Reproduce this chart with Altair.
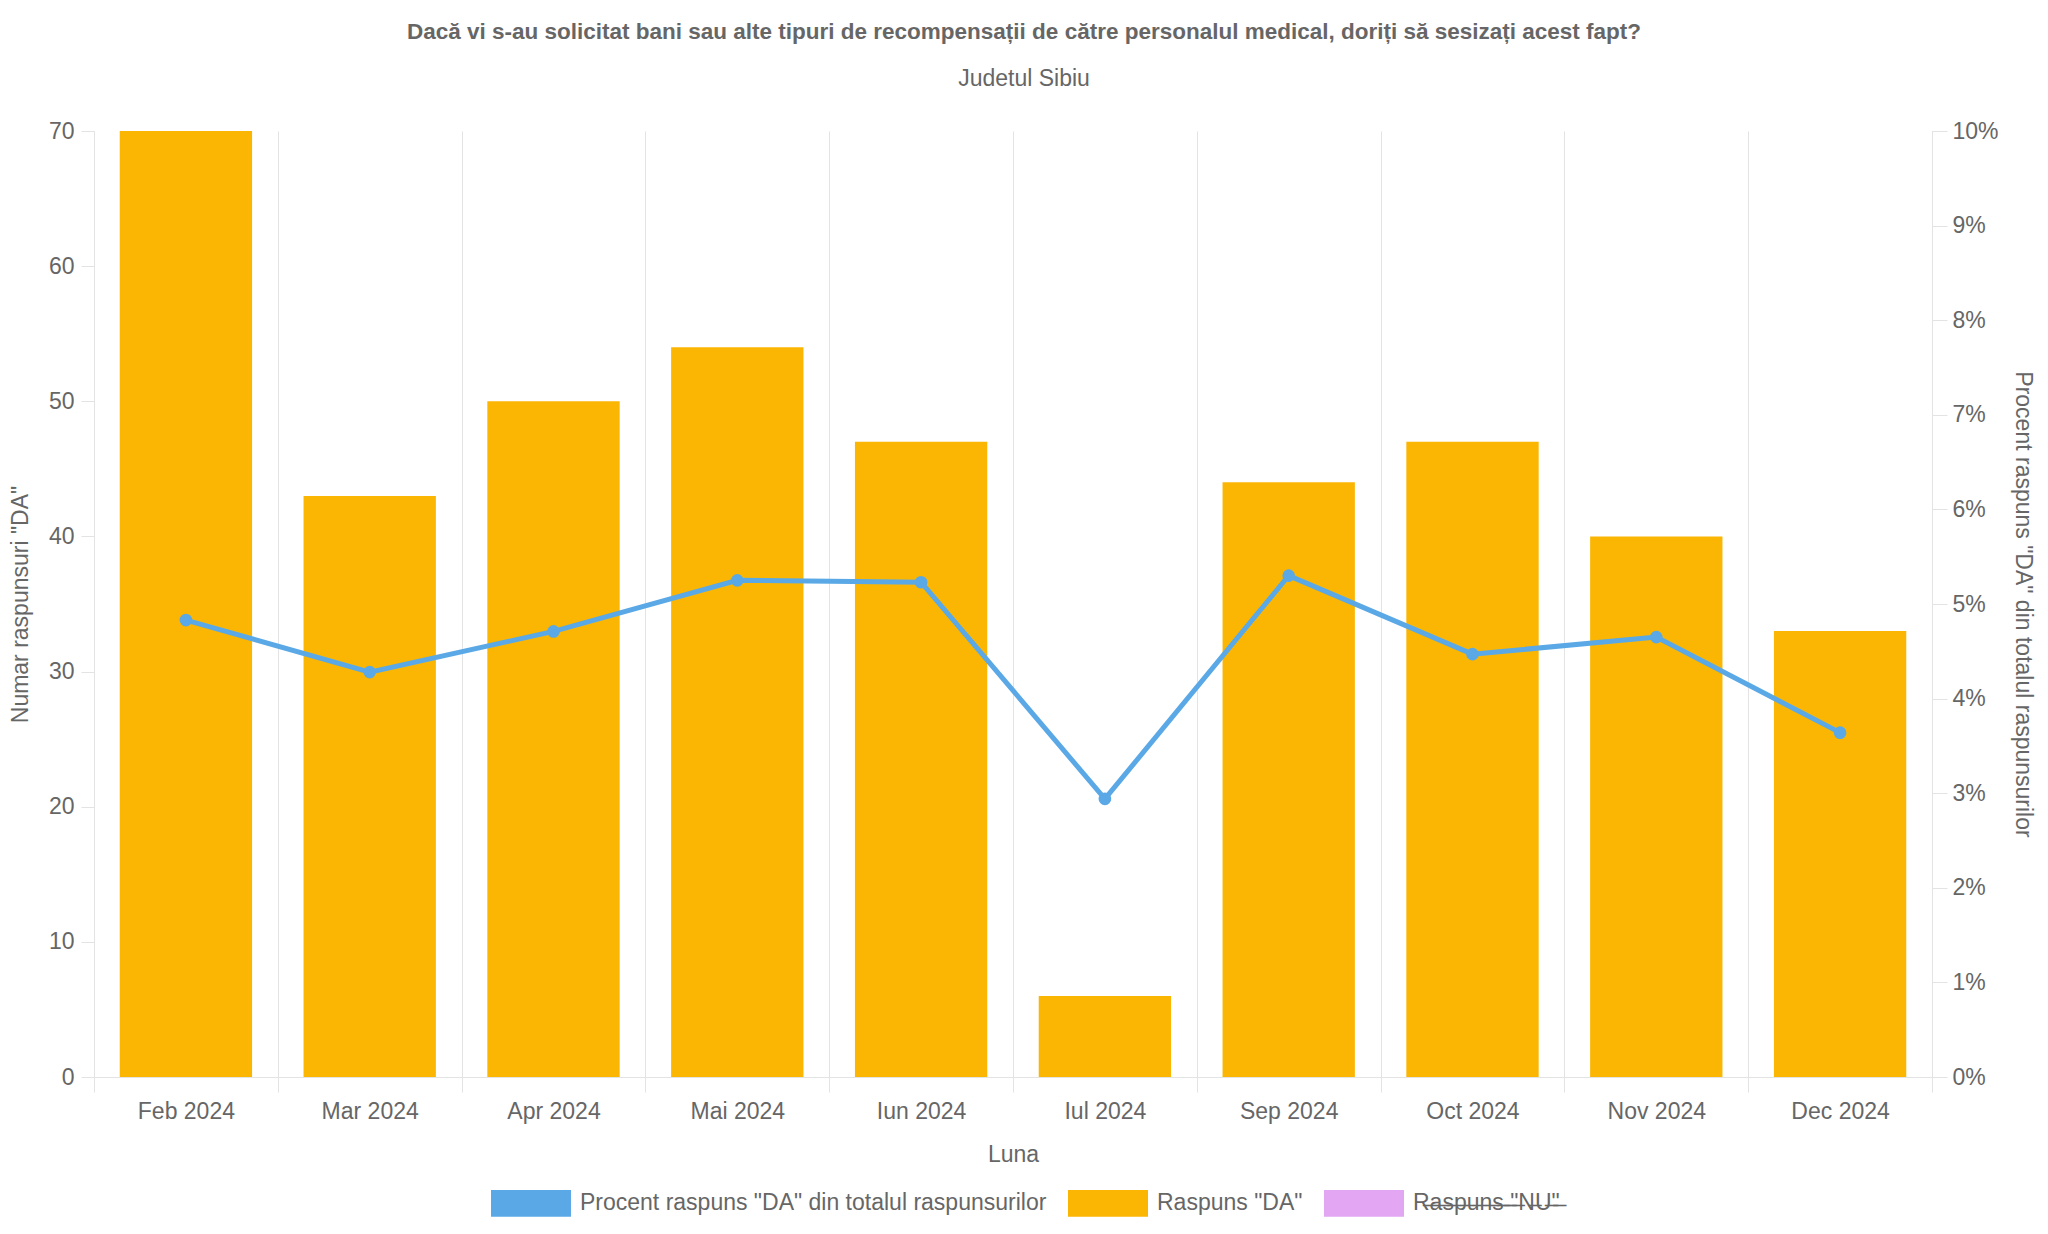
import json
import altair as alt
import pandas as pd

# ---- data ----
months = ["Feb 2024", "Mar 2024", "Apr 2024", "Mai 2024", "Iun 2024",
          "Iul 2024", "Sep 2024", "Oct 2024", "Nov 2024", "Dec 2024"]
da_counts = [70, 43, 50, 54, 47, 6, 44, 47, 40, 33]
da_percent = [4.83, 4.28, 4.71, 5.25, 5.23, 2.94, 5.30, 4.47, 4.65, 3.64]
series_labels = ['Procent raspuns "DA" din totalul raspunsurilor',
                 'Raspuns "DA"', 'Raspuns "NU"']
series_colors = ["#5AA9E6", "#FBB604", "#E2A6F2"]
left_ticks = [0, 10, 20, 30, 40, 50, 60, 70]
right_ticks = [i / 100 for i in range(0, 11)]

title_text = ("Dacă vi s-au solicitat bani sau alte tipuri de recompensații "
              "de către personalul medical, doriți să sesizați acest fapt?")
subtitle_text = "Judetul Sibiu"

df = pd.DataFrame({
    "Luna": months,
    "DA": da_counts,
    "Procent": [p / 100 for p in da_percent],
    "Serie": series_labels[1],
})

FONT = "Liberation Sans"
TXT = "#666666"
GRID = "#E3E3E3"
FS = 23

strike = "".join(c + "\u0336" for c in series_labels[2])
label_expr = (f"datum.value === {json.dumps(series_labels[2], ensure_ascii=False)} ? "
              f"{json.dumps(strike, ensure_ascii=False)} : datum.label")

x_enc = alt.X(
    "Luna:N", sort=months,
    scale=alt.Scale(paddingInner=0, paddingOuter=0),
    axis=alt.Axis(title="Luna", labelAngle=0, tickBand="extent", grid=True,
                  gridColor=GRID, tickColor=GRID, tickSize=15, domainColor=GRID,
                  labelPadding=8, titlePadding=20),
)

bars = alt.Chart(df).mark_bar(width={"band": 0.72}).encode(
    x=x_enc,
    y=alt.Y("DA:Q", scale=alt.Scale(domain=[0, 70], nice=False),
            axis=alt.Axis(title='Numar raspunsuri "DA"', values=left_ticks,
                          grid=False, tickSize=13, tickColor=GRID, domainColor=GRID,
                          labelPadding=7, titlePadding=16)),
    color=alt.Color(
        "Serie:N",
        scale=alt.Scale(domain=series_labels, range=series_colors),
        legend=alt.Legend(
            title=None, orient="none", direction="horizontal",
            legendX=410, legendY=1045,
            symbolType="M-1.5,-0.5H1.5V0.5H-1.5Z", symbolSize=2844,
            symbolStrokeWidth=0, labelOffset=22, columnPadding=21,
            labelLimit=0, labelExpr=label_expr, padding=0,
        ),
    ),
)

y_right = alt.Y("Procent:Q", scale=alt.Scale(domain=[0, 0.10], nice=False),
                axis=alt.Axis(title='Procent raspuns "DA" din totalul raspunsurilor',
                              orient="right", values=right_ticks, format=".0%",
                              grid=False, tickSize=15, tickColor=GRID, domainColor=GRID,
                              labelPadding=5, titlePadding=12))

line = alt.Chart(df).mark_line(color=series_colors[0], strokeWidth=5).encode(
    x=alt.X("Luna:N", sort=months), y=y_right)
pts = alt.Chart(df).mark_circle(color=series_colors[0], size=160, opacity=1).encode(
    x=alt.X("Luna:N", sort=months), y=y_right)

chart = alt.layer(bars, alt.layer(line, pts)).resolve_scale(
    y="independent"
).properties(
    width=1838, height=946,
    autosize=alt.AutoSizeParams(type="none"),
    padding={"left": 86, "top": 123, "right": 104, "bottom": 140},
    title=alt.TitleParams(text=title_text, subtitle=subtitle_text, anchor="middle",
                          dx=11, offset=29, subtitlePadding=25),
).configure(
    font=FONT,
).configure_view(
    stroke=None,
).configure_axis(
    labelFont=FONT, titleFont=FONT, labelFontSize=FS, titleFontSize=FS,
    labelColor=TXT, titleColor=TXT, titleFontWeight="normal",
).configure_legend(
    labelFont=FONT, labelFontSize=FS, labelColor=TXT,
).configure_title(
    font=FONT, fontSize=22.5, fontWeight="bold", color=TXT,
    subtitleFont=FONT, subtitleFontSize=FS, subtitleColor=TXT,
    subtitleFontWeight="normal",
)

chart.save("out.html", embed_options={"renderer": "svg", "actions": False})
